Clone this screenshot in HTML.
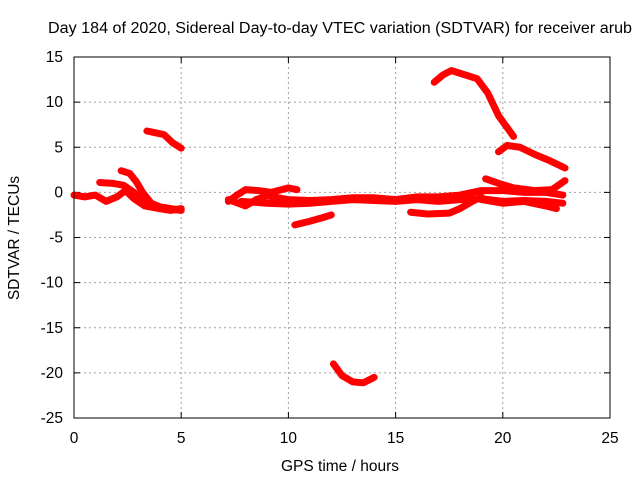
<!DOCTYPE html>
<html><head><meta charset="utf-8"><style>
body{margin:0;background:#fff}
svg text{font-family:"Liberation Sans",sans-serif;font-size:15.5px;fill:#000}
</style></head><body>
<svg id="chart" width="640" height="480" viewBox="0 0 640 480" xmlns="http://www.w3.org/2000/svg">
<rect width="640" height="480" fill="#fff"/>
<text x="340" y="33" text-anchor="middle" textLength="584" lengthAdjust="spacingAndGlyphs">Day 184 of 2020, Sidereal Day-to-day VTEC variation (SDTVAR) for receiver arub</text>
<text x="340" y="471" text-anchor="middle">GPS time / hours</text>
<text transform="translate(19,238) rotate(-90)" text-anchor="middle">SDTVAR / TECUs</text>
<g id="grid"></g>
<g id="series"></g>
<rect x="74" y="57" width="536" height="361" fill="none" stroke="#000" stroke-width="1"/>
</svg>
<script>
const xTicks=[0,5,10,15,20,25];
const yTicks=[15,10,5,0,-5,-10,-15,-20,-25];
const sA=[[0,-0.3],[0.5,-0.5],[1,-0.3],[1.5,-1],[2,-0.5],[2.4,0.2],[2.8,-0.7],[3.3,-1.5],[4,-1.8],[4.5,-2],[5,-1.8]];
const sB=[[1.2,1.1],[1.8,1.0],[2.3,0.8],[2.8,0],[3.3,-1],[4,-1.6],[4.8,-1.9]];
const sC=[[2.2,2.4],[2.6,2.1],[2.9,1.2],[3.2,0],[3.6,-1.2],[4.2,-1.8],[5,-2]];
const sD=[[3.4,6.8],[3.8,6.6],[4.2,6.4],[4.6,5.5],[5,4.9]];
const sE=[[7.2,-1],[7.6,-0.3],[8,0.3],[8.6,0.2],[9.2,0],[10,0.5],[10.4,0.3]];
const sF=[[7.2,-0.8],[8,-1.5],[8.5,-0.8],[9,-0.4],[10,-0.8],[11,-0.9],[12,-0.8],[13,-0.6],[14,-0.6],[15,-0.8],[16,-0.5],[17,-0.5],[18,-0.3],[19,0.2],[20,0.2],[21,0],[22,0],[22.8,-0.3]];
const sG=[[7.8,-1],[9,-1.2],[10,-1.3],[11,-1.2],[12,-1],[13,-0.8],[14,-0.9],[15,-1],[16,-0.8],[17,-1],[18,-0.8],[19,-0.7],[20,-1],[21,-0.9],[22,-1],[22.8,-1.2]];
const sH=[[10.3,-3.6],[11,-3.2],[11.6,-2.8],[12,-2.5]];
const sI=[[15.7,-2.2],[16.5,-2.4],[17.5,-2.3],[18,-1.8],[18.5,-1.1],[19,-0.5]];
const sJ=[[16.8,12.2],[17.2,13],[17.6,13.5],[18,13.2],[18.8,12.6],[19.3,11],[19.8,8.5],[20.5,6.2]];
const sK=[[19.8,4.5],[20.2,5.2],[20.8,5],[21.5,4.2],[22.2,3.5],[22.9,2.7]];
const sL=[[12.1,-19],[12.5,-20.3],[13,-21],[13.5,-21.1],[14,-20.5]];
const sM=[[19.2,1.5],[19.8,1],[20.5,0.5],[21.5,0.2],[22.3,0.3],[22.9,1.3]];
const sN=[[19,-0.8],[20,-1.2],[21,-1],[22,-1.5],[22.5,-1.8]];
const allSeries=[sA,sB,sC,sD,sE,sF,sG,sH,sI,sJ,sK,sL,sM,sN];
const X0=74,X1=610,Y0=418,Y1=57;
const xs=v=>X0+(v-0)/(25-0)*(X1-X0);
const ys=v=>Y0-(v+25)/(15+25)*(Y0-Y1);
const NS="http://www.w3.org/2000/svg";
const svg=document.getElementById('chart'),grid=document.getElementById('grid'),ser=document.getElementById('series');
function mk(t,a,p){const e=document.createElementNS(NS,t);for(const k in a)e.setAttribute(k,a[k]);p.appendChild(e);return e;}
xTicks.forEach(t=>{const x=xs(t);
 if(t>0&&t<25){const l=mk('line',{x1:x,x2:x,y1:Y1,y2:Y0,stroke:'#a0a0a0','stroke-dasharray':'2,3'},grid);
 }
 const k=mk('line',{x1:x,x2:x,y1:Y0,y2:Y0-6,stroke:'#000'},grid);
 const k2=mk('line',{x1:x,x2:x,y1:Y1,y2:Y1+6,stroke:'#000'},grid);
 const tx=mk('text',{x:x,y:443,'text-anchor':'middle'},grid);tx.textContent=t;
 });
yTicks.forEach(t=>{const y=ys(t);
 if(t>-25&&t<15){const l=mk('line',{x1:X0,x2:X1,y1:y,y2:y,stroke:'#a0a0a0','stroke-dasharray':'2,3'},grid);
 }
 const k=mk('line',{x1:X0,x2:X0+6,y1:y,y2:y,stroke:'#000'},grid);
 const k2=mk('line',{x1:X1,x2:X1-6,y1:y,y2:y,stroke:'#000'},grid);
 const tx=mk('text',{x:63,y:y+5,'text-anchor':'end'},grid);tx.textContent=t;
 });
allSeries.forEach((s,i)=>{
 const p=mk('polyline',{points:s.map(d=>xs(d[0])+','+ys(d[1])).join(' '),fill:'none',stroke:'#ff0000','stroke-width':7,'stroke-linejoin':'round','stroke-linecap':'round'},ser);
 
 });
</script>
</body></html>
